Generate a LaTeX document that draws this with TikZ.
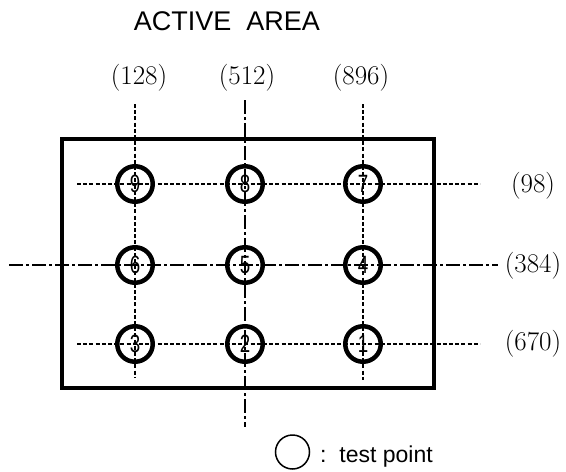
\documentclass[tikz,border=0pt]{standalone}
\usepackage{fontspec}
\newfontfamily\arialfont{Liberation Sans}

\begin{document}
\begin{tikzpicture}[x=1pt, y=-1pt, every node/.style={inner sep=0pt},
  punto/.style={draw, circle, line width=4.5pt, minimum size=35.5pt,
    font=\arialfont\fontsize{25}{25}\selectfont},
  griglia/.style={line width=2pt, dash pattern=on 4pt off 2.2pt},
  asse/.style={line width=2.2pt, dash pattern=on 14pt off 3pt on 3pt off 3pt},
  quota/.style={font=\fontsize{27}{27}\selectfont}]
\useasboundingbox (0,0) rectangle (566,472);

% Titolo
\node (titolo) at (227,21) {\arialfont\fontsize{27}{27}\selectfont ACTIVE\ \ AREA};

% Area attiva
\draw[line width=3.2pt] (62,139) rectangle (434,388);

% Estremi delle linee
\coordinate (c1n) at (135,104); \coordinate (c1s) at (135,378);
\coordinate (c2n) at (245,100); \coordinate (c2s) at (245,427);
\coordinate (c3n) at (363,104); \coordinate (c3s) at (363,380);
\coordinate (r1w) at (77,184);  \coordinate (r1e) at (480,184);
\coordinate (r2w) at (9,265);   \coordinate (r2e) at (498,265);
\coordinate (r3w) at (77,344);  \coordinate (r3e) at (480,344);

% Linee di riferimento
\draw[griglia] (c1n) -- (c1s);
\draw[asse] (c2n) -- (c2s);
\draw[griglia] (c3n) -- (c3s);
\draw[griglia] (r1w) -- (r1e);
\draw[asse] (r2w) -- (r2e);
\draw[griglia] (r3w) -- (r3e);

% Punti di prova
\foreach \n/\x/\y in {9/135/184, 8/245/184, 7/363/184,
                      6/135/265, 5/245/265, 4/363/265,
                      3/135/344, 2/245/344, 1/363/344}
  \node[punto] (p\n) at (\x,\y) {\scalebox{.75}[1]{\n}};

% Quote
\node[quota] (q128) at (139,78) {(128)};
\node[quota] (q512) at (247,78) {(512)};
\node[quota] (q896) at (361,78) {(896)};
\node[quota] (q98) at (533,186) {(98)};
\node[quota] (q384) at (533,266) {(384)};
\node[quota] (q670) at (533,344) {(670)};

% Legenda
\node[draw, circle, line width=1.5pt, minimum size=34pt] (leg) at (292.5,452) {};
\node[anchor=base west, font=\arialfont\fontsize{23}{23}\selectfont] (legtxt)
  at (320,462) {:\ \ test point};
\end{tikzpicture}
\end{document}
